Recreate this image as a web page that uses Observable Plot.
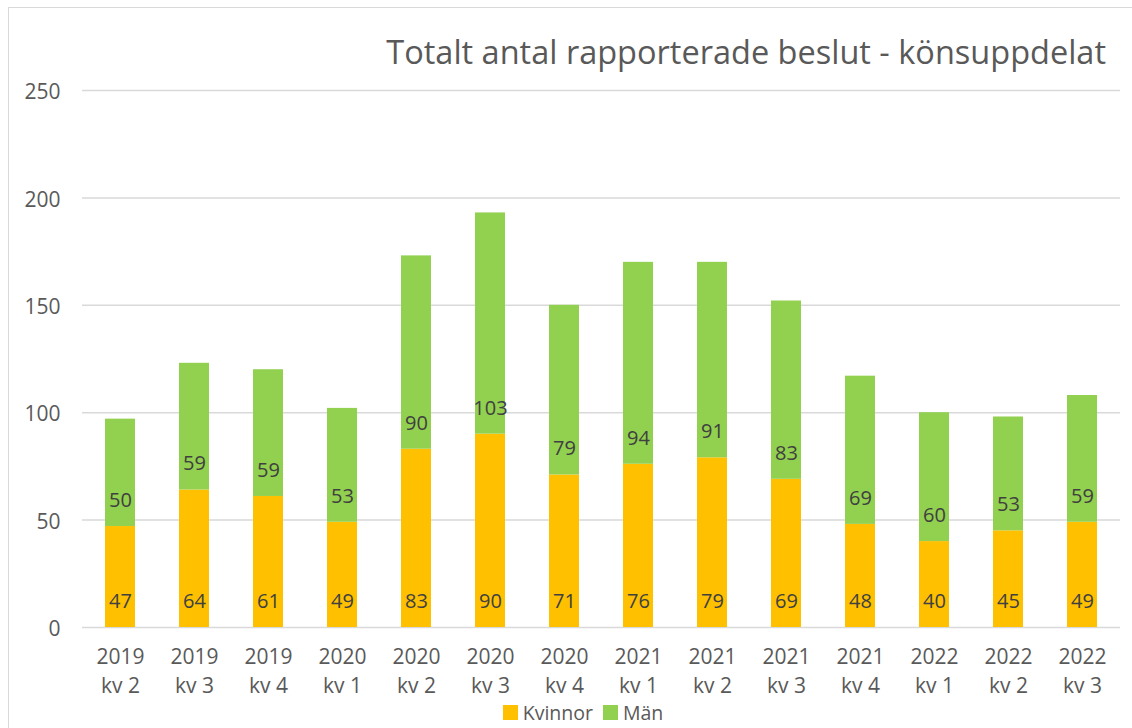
<!DOCTYPE html>
<html>
<head>
<meta charset="utf-8">
<script src="https://cdn.jsdelivr.net/npm/d3@7"></script>
<script src="https://cdn.jsdelivr.net/npm/@observablehq/plot@0.6"></script>
<style>
  html, body { margin: 0; padding: 0; background: #fff; width: 1132px; height: 728px; overflow: hidden; }
  #frame { position: absolute; left: 8px; top: 7px; width: 1140px; height: 740px; border: 1px solid #d9d9d9; box-sizing: border-box; }
  #title { position: absolute; top: 34px; right: 26px; font-family: "Open Sans", sans-serif; font-weight: 400; font-size: 32.5px; line-height: 1.1; color: #595959; white-space: nowrap; }
  #chart { position: absolute; left: 0; top: 60px; }
  #legend { position: absolute; top: 701px; left: 0; width: 1132px; display: flex; justify-content: center; font-family: "Open Sans", sans-serif; font-size: 19.5px; line-height: 1.2; color: #595959; padding-left: 34px; box-sizing: border-box; }
  .item { display: flex; align-items: center; margin: 0 5px; }
  .sw { width: 15px; height: 15px; margin-right: 5px; }
</style>
</head>
<body>
<div id="frame"></div>
<div id="title">Totalt antal rapporterade beslut - könsuppdelat</div>
<div id="chart"></div>
<div id="legend"></div>
<script>
const years = ["2019","2019","2019","2020","2020","2020","2020","2021","2021","2021","2021","2022","2022","2022"];
const quarters = ["kv 2","kv 3","kv 4","kv 1","kv 2","kv 3","kv 4","kv 1","kv 2","kv 3","kv 4","kv 1","kv 2","kv 3"];
const kvinnor = [47,64,61,49,83,90,71,76,79,69,48,40,45,49];
const man = [50,59,59,53,90,103,79,94,91,83,69,60,53,59];
const series = ["Kvinnor","Män"];
const colors = ["#FFC000","#92D050"];
const yTicks = [0,50,100,150,200,250];

const labels = years.map((y,i) => y + "\n" + quarters[i]);
const data = [];
series.forEach((s, si) => {
  const vals = si === 0 ? kvinnor : man;
  labels.forEach((l, i) => data.push({cat: l, sex: s, value: vals[i]}));
});

const font = "'Open Sans', sans-serif";
const plot = Plot.plot({
  width: 1132,
  height: 638,
  marginTop: 30,
  marginBottom: 71,
  marginLeft: 82,
  marginRight: 12,
  style: {fontFamily: font, fontSize: "21px", color: "#595959", background: "transparent"},
  x: {domain: labels, paddingInner: 0.595, paddingOuter: 0.2975, label: null, tickSize: 0, tickPadding: 16},
  y: {domain: [0, 250], ticks: yTicks, label: null, tickSize: 0, tickPadding: 22},
  color: {domain: series, range: colors},
  marks: [
    Plot.gridY(yTicks, {stroke: "#d9d9d9", strokeOpacity: 1, strokeWidth: 1.5}),
    Plot.axisY({ticks: yTicks, tickSize: 0, tickPadding: 22, fontSize: 21, fill: "#595959", dy: 2}),
    Plot.axisX({tickSize: 0, tickPadding: 16, fontSize: 21, lineHeight: 1.38, fill: "#595959", textAnchor: "middle"}),
    Plot.barY(data, Plot.stackY({x: "cat", y: "value", fill: "sex", order: null})),
    Plot.text(data, Plot.stackY1({x: "cat", y: "value", z: "sex", text: d => String(d.value), dy: -26, fontSize: 20, fill: "#404040", order: null}))
  ]
});
document.getElementById("chart").appendChild(plot);

const legend = document.getElementById("legend");
series.forEach((s, i) => {
  const it = document.createElement("div");
  it.className = "item";
  it.innerHTML = `<span class="sw" style="background:${colors[i]}"></span><span>${s}</span>`;
  legend.appendChild(it);
});
</script>
</body>
</html>
